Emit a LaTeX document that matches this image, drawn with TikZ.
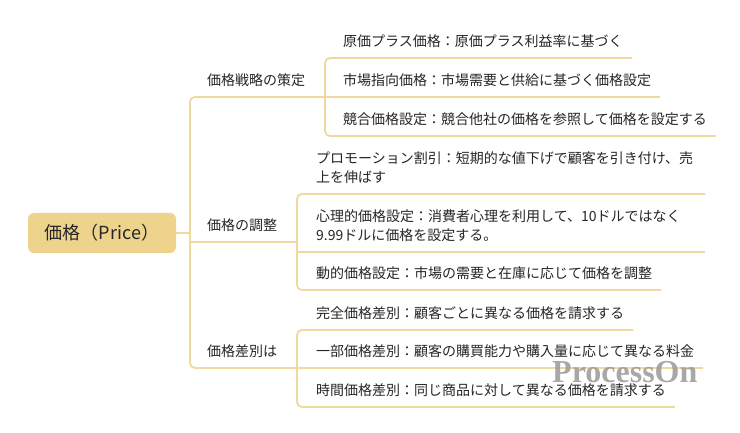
\documentclass[tikz,border=0pt]{standalone}
\usepackage{fontspec}
\setmainfont{Noto Sans CJK JP}
\newfontfamily\wmfont{Liberation Serif}
\definecolor{mmline}{HTML}{EFD99E}
\definecolor{rootfill}{HTML}{EDD38C}
\definecolor{txt}{HTML}{262626}
\newcommand\mmstrut{\rule[-11.5pt]{0pt}{1pt}}
\tikzset{
  mmlink/.style={draw=mmline, line width=1.8pt, rounded corners=5pt},
  mmtext/.style={anchor=south west, inner xsep=9pt, inner ysep=0pt,
    font=\fontsize{14}{19}\selectfont, text=txt, execute at end node=\mmstrut},
  mmwrap/.style={mmtext, text width=380pt, align=left},
  rootbox/.style={fill=rootfill, rounded corners=6pt, minimum width=148pt,
    minimum height=40pt, inner sep=0pt, text=txt, font=\fontsize{18}{22}\selectfont}
}
\begin{document}
\begin{tikzpicture}[x=1pt,y=-1pt]
\fill[white] (0,0) rectangle (740,433);
\useasboundingbox (0,0) rectangle (740,433);

% coordinates of trunks
\coordinate (T1) at (190,97);
\coordinate (T3) at (190,368);
\coordinate (S1) at (325,97);
\coordinate (S2) at (297,242);
\coordinate (S3) at (297,368);

% root
\node[rootbox] (root) at (102,233) {価格（Price）};

% branches
\node[mmtext] (b1) at (198,97) {価格戦略の策定};
\node[mmtext] (b2) at (198,242) {価格の調整};
\node[mmtext] (b3) at (198,368) {価格差別は};

% leaves of branch 1
\node[mmtext] (l11) at (334,58) {原価プラス価格：原価プラス利益率に基づく};
\node[mmtext] (l12) at (334,97) {市場指向価格：市場需要と供給に基づく価格設定};
\node[mmtext] (l13) at (334,136) {競合価格設定：競合他社の価格を参照して価格を設定する};

% leaves of branch 2
\node[mmwrap] (l21) at (307,194) {プロモーション割引：短期的な値下げで顧客を引き付け、売\\上を伸ばす};
\node[mmwrap] (l22) at (307,252) {心理的価格設定：消費者心理を利用して、10ドルではなく\\9.99ドルに価格を設定する。};
\node[mmtext] (l23) at (307,290) {動的価格設定：市場の需要と在庫に応じて価格を調整};

% leaves of branch 3
\node[mmtext] (l31) at (307,330) {完全価格差別：顧客ごとに異なる価格を請求する};
\node[mmtext] (l32) at (307,368) {一部価格差別：顧客の購買能力や購入量に応じて異なる料金};
\node[mmtext] (l33) at (307,407) {時間価格差別：同じ商品に対して異なる価格を請求する};

% connectors
\draw[mmlink] (root.east) -- (root.east -| T1);
\draw[mmlink] (S1) -- (T1) -- (T3) -- (S3);
\draw[mmlink] (T1 |- S2) -- (S2);

\draw[mmlink] (l11.south east) -- (l11.south west -| S1) -- (l13.south west -| S1) -- (l13.south east);
\draw[mmlink] (S1) -- (l12.south east);

\draw[mmlink] (l21.south east) -- (l21.south west -| S2) -- (l23.south west -| S2) -- (l23.south east);
\draw[mmlink] (l22.south west -| S2) -- (l22.south east);

\draw[mmlink] (l31.south east) -- (l31.south west -| S3) -- (l33.south west -| S3) -- (l33.south east);
\draw[mmlink] (S3) -- (l32.south east);

% watermark
\node[anchor=base west, inner sep=0pt, font=\wmfont\bfseries\fontsize{32}{32}\selectfont,
  text=gray!80, opacity=.85] (wm) at (552,382) {ProcessOn};
\end{tikzpicture}
\end{document}
